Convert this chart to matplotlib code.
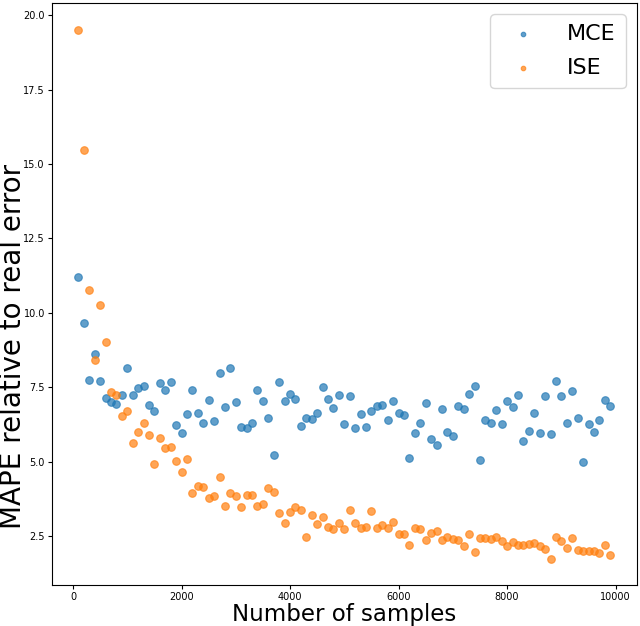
import numpy as np
import matplotlib.pyplot as plt

# sample counts 100..9900
samples = list(range(100, 10000, 100))

mce = [11.22, 9.65, 7.74, 8.61, 7.72, 7.15, 7.01, 6.92, 7.24, 8.13,
       7.24, 7.47, 7.53, 6.91, 6.70, 7.65, 7.42, 7.69, 6.23, 5.97,
       6.59, 7.42, 6.63, 6.31, 7.08, 6.35, 7.98, 6.84, 8.15, 6.99,
       6.16, 6.14, 6.29, 7.42, 7.05, 6.45, 5.22, 7.69, 7.04, 7.28,
       7.10, 6.20, 6.45, 6.44, 6.63, 7.49, 7.11, 6.80, 7.24, 6.25,
       7.22, 6.12, 6.61, 6.17, 6.69, 6.88, 6.90, 6.39, 7.04, 6.63,
       6.57, 5.13, 5.96, 6.30, 6.97, 5.76, 5.57, 6.77, 6.01, 5.85,
       6.88, 6.78, 7.27, 7.54, 5.05, 6.41, 6.31, 6.72, 6.27, 7.04,
       6.85, 7.25, 5.70, 6.04, 6.62, 5.97, 7.21, 5.93, 7.71, 7.22,
       6.31, 7.37, 6.45, 4.98, 6.27, 6.01, 6.40, 7.07, 6.88]

ise = [19.52, 15.47, 10.78, 8.41, 10.27, 9.02, 7.34, 7.25, 6.52, 6.69,
       5.64, 6.00, 6.31, 5.88, 4.92, 5.79, 5.45, 5.50, 5.01, 4.64,
       5.10, 3.94, 4.19, 4.14, 3.77, 3.84, 4.47, 3.50, 3.96, 3.84,
       3.48, 3.86, 3.86, 3.50, 3.56, 4.10, 3.98, 3.27, 2.95, 3.30,
       3.47, 3.38, 2.46, 3.19, 2.89, 3.12, 2.79, 2.75, 2.93, 2.74,
       3.36, 2.92, 2.76, 2.79, 3.33, 2.78, 2.88, 2.78, 2.98, 2.58,
       2.55, 2.20, 2.76, 2.75, 2.36, 2.61, 2.68, 2.38, 2.48, 2.39,
       2.35, 2.15, 2.58, 1.97, 2.43, 2.42, 2.39, 2.46, 2.32, 2.17,
       2.29, 2.18, 2.18, 2.24, 2.27, 2.15, 2.07, 1.74, 2.47, 2.32,
       2.09, 2.43, 2.03, 1.98, 1.98, 1.98, 1.92, 2.18, 1.85]

fig = plt.figure(figsize=(6.4, 6.26), dpi=100)
ax = fig.add_axes([0.081, 0.0655, 0.914, 0.9295])

for vals, lab, c in [(mce, 'MCE', '#1f77b4'), (ise, 'ISE', '#ff7f0e')]:
    ax.scatter(samples, vals, s=30, facecolors=c, edgecolors=c,
               linewidths=0.8, alpha=0.7, label=lab)

ax.tick_params(labelsize=7, length=3, pad=2)
ax.set_xlabel('Number of samples', fontsize=16.5, labelpad=1)
ax.set_ylabel('MAPE relative to real error', fontsize=20)
ax.yaxis.set_label_coords(-0.042, 0.41)
ax.legend(loc='upper right', fontsize=16, markerscale=0.6,
          borderpad=0.45, handletextpad=1.0, labelspacing=0.63)

fig.savefig('out.png', dpi=100)
